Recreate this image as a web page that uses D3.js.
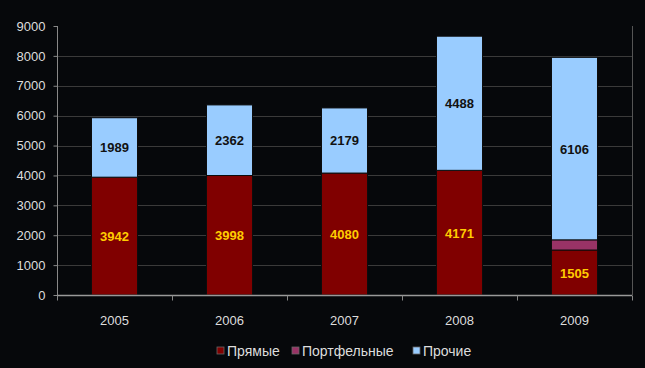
<!DOCTYPE html>
<html><head><meta charset="utf-8">
<script src="https://cdn.jsdelivr.net/npm/d3@7"></script>
<style>
html,body{margin:0;padding:0;background:#06080b;}
svg{display:block;}
</style></head>
<body><svg id="c" width="645" height="368"></svg>
<script>
const years = ["2005","2006","2007","2008","2009"];
const direct = [3942, 3998, 4080, 4171, 1505];
const portfolio = [0, 0, 0, 0, 340];
const other = [1989, 2362, 2179, 4488, 6106];
const seriesNames = ["Прямые", "Портфельные", "Прочие"];
const seriesColors = ["#800000", "#993366", "#99ccff"];
const yTicks = [0,1000,2000,3000,4000,5000,6000,7000,8000,9000];

const svg = d3.select("#c");
const x = d3.scaleBand().domain(years).range([57, 632]).paddingInner(0.6).paddingOuter(0.3);
const xb = d3.scaleBand().domain(years).range([57, 632]);
const y = d3.scaleLinear().domain([0, 9000]).range([295, 26]);

// gridlines
svg.append("g").selectAll("line").data(yTicks.filter(t => t > 0 && t < 9000)).join("line")
  .attr("x1", 57).attr("x2", 632).attr("y1", d => Math.round(y(d)) + 0.5).attr("y2", d => Math.round(y(d)) + 0.5)
  .attr("stroke", "#3a3a3a").attr("stroke-width", 1);

// stacked bars
const rows = years.map((yr, i) => ({year: yr, vals: [direct[i], portfolio[i], other[i]]}));
const stack = d3.stack().keys([0,1,2]).value((d, k) => d.vals[k]);
const layers = stack(rows);
layers.forEach((layer, k) => {
  svg.append("g").selectAll("rect").data(layer.filter(d => d[1] > d[0])).join("rect")
    .attr("x", d => x(d.data.year))
    .attr("width", x.bandwidth())
    .attr("y", d => y(d[1]))
    .attr("height", d => y(d[0]) - y(d[1]))
    .attr("fill", seriesColors[k])
    .attr("stroke", "#0c0c0c")
    .attr("stroke-width", 1);
});

// value labels
svg.append("g").selectAll("text").data(layers[0]).join("text")
  .attr("x", d => x(d.data.year) + x.bandwidth() / 2)
  .attr("y", d => (y(d[0]) + y(d[1])) / 2 + 5)
  .attr("text-anchor", "middle")
  .attr("font-family", "Arial, 'Liberation Sans', sans-serif")
  .attr("font-weight", "bold").attr("font-size", 13)
  .attr("fill", "#ffcc00")
  .text(d => d[1] - d[0]);
svg.append("g").selectAll("text").data(layers[2]).join("text")
  .attr("x", d => x(d.data.year) + x.bandwidth() / 2)
  .attr("y", d => (y(d[0]) + y(d[1])) / 2 + 5)
  .attr("text-anchor", "middle")
  .attr("font-family", "Arial, 'Liberation Sans', sans-serif")
  .attr("font-weight", "bold").attr("font-size", 13)
  .attr("fill", "#111")
  .text(d => d[1] - d[0]);

// axes
const yAxis = svg.append("g").attr("transform", "translate(57.5,0)")
  .call(d3.axisLeft(y).tickValues(yTicks).tickSize(4).tickFormat(d3.format("d")));
yAxis.select(".domain").attr("stroke", "#888").attr("d", `M0,${y(0)}V${y(9000)}`);
yAxis.selectAll(".tick line").attr("stroke", "#888");
yAxis.selectAll(".tick text").attr("fill", "#dddddd").attr("font-size", 13)
  .attr("font-family", "Arial, 'Liberation Sans', sans-serif").attr("x", -12);

svg.append("line").attr("x1", 632.5).attr("x2", 632.5).attr("y1", y(9000)).attr("y2", y(0))
  .attr("stroke", "#555");

const xAxis = svg.append("g").attr("transform", `translate(0,${Math.round(y(0)) + 0.5})`);
xAxis.append("line").attr("x1", 57).attr("x2", 632).attr("stroke", "#999").attr("stroke-width", 1.5);
xAxis.selectAll("line.t").data(years.concat(["end"])).join("line").attr("class", "t")
  .attr("x1", (d, i) => i < years.length ? xb(d) + 0.5 : 632.5)
  .attr("x2", (d, i) => i < years.length ? xb(d) + 0.5 : 632.5)
  .attr("y1", 0).attr("y2", 5).attr("stroke", "#888");
xAxis.selectAll("text").data(years).join("text")
  .attr("x", d => xb(d) + xb.bandwidth() / 2).attr("y", 29)
  .attr("text-anchor", "middle").attr("fill", "#dddddd").attr("font-size", 13)
  .attr("font-family", "Arial, 'Liberation Sans', sans-serif")
  .text(d => d);

// legend
const legendX = [217, 292, 413];
const lg = svg.append("g");
seriesNames.forEach((n, i) => {
  lg.append("rect").attr("x", legendX[i]).attr("y", 347).attr("width", 7).attr("height", 7)
    .attr("fill", seriesColors[i]).attr("stroke", "#666").attr("stroke-width", 0.8);
  lg.append("text").attr("x", legendX[i] + 10).attr("y", 356)
    .attr("fill", "#dddddd").attr("font-size", 14)
    .attr("font-family", "Arial, 'Liberation Sans', sans-serif")
    .text(n);
});
</script></body></html>
